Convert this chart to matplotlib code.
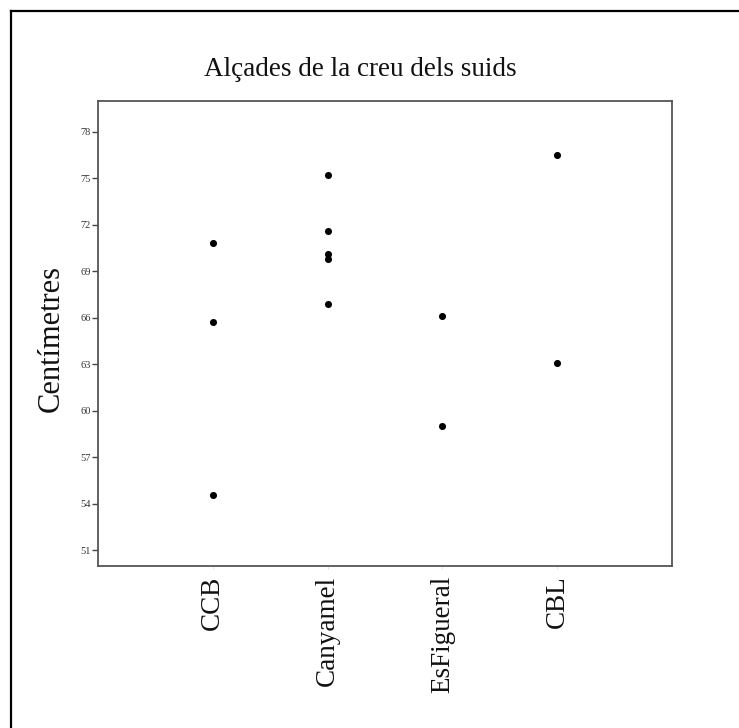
import matplotlib
matplotlib.use("Agg")
import matplotlib.pyplot as plt
from matplotlib.lines import Line2D

# Withers heights (cm) of suids per site
sites = ["CCB", "Canyamel", "EsFigueral", "CBL"]
ccb = [70.8, 65.7, 54.6]
canyamel = [75.2, 71.6, 70.1, 69.8, 66.9]
esfigueral = [66.1, 59.0]
cbl = [76.5, 63.1]
yticks = [51, 54, 57, 60, 63, 66, 69, 72, 75, 78]

groups = [ccb, canyamel, esfigueral, cbl]

plt.rcParams["font.family"] = ["Liberation Serif", "DejaVu Serif"]

W, H = 739, 728
fig = plt.figure(figsize=(W / 100, H / 100), dpi=100)
ax = fig.add_axes([98 / W, 1 - 566 / H, (672 - 98) / W, (566 - 100.7) / H])

for i, vals in enumerate(groups, start=1):
    ax.scatter([i] * len(vals), vals, s=26, color="black", zorder=3, linewidths=0)

ax.set_xlim(0, 5)
ax.set_ylim(50, 80)
ax.set_yticks(yticks)
ax.set_yticklabels([str(v) for v in yticks], fontsize=7.5, color="#333333")
ax.set_xticks(range(1, len(sites) + 1))
ax.set_xticklabels(sites, rotation=90, fontsize=19.5, color="#111111")
ax.tick_params(axis="y", length=4, width=1, color="#444444", pad=1)
ax.tick_params(axis="x", length=2, width=0.6, color="#dddddd", pad=5)
for sp in ax.spines.values():
    sp.set_color("#555555")
    sp.set_linewidth(1.3)

fig.text(360 / W, 1 - 76 / H, "Alçades de la creu dels suids", fontsize=19.5,
         ha="center", va="baseline", color="#111111")
fig.text(51 / W, 1 - 338 / H, "Centímetres", fontsize=22, rotation=90,
         ha="center", va="center", color="#111111")

# outer border
fig.add_artist(Line2D([11 / W, 11 / W], [0, 1 - 11 / H], transform=fig.transFigure,
                      color="black", linewidth=1.6))
fig.add_artist(Line2D([11 / W, 1], [1 - 11 / H, 1 - 11 / H], transform=fig.transFigure,
                      color="black", linewidth=1.6))

fig.savefig("out.png", dpi=100, facecolor="white")
